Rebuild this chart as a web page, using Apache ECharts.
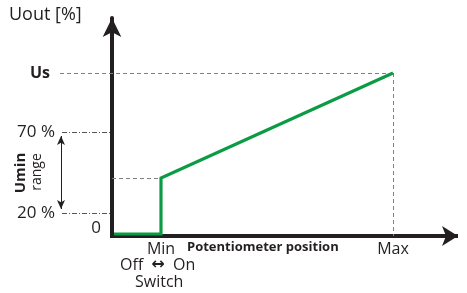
<!DOCTYPE html>
<html>
<head>
<meta charset="utf-8">
<script src="https://cdn.jsdelivr.net/npm/echarts@6/dist/echarts.min.js"></script>
<style>
  html, body { margin: 0; padding: 0; background: #fff; }
  #chart { width: 467px; height: 293px; }
</style>
</head>
<body>
<div id="chart"></div>
<script>
  // schematic units (1 unit ~ 1px of the drawing), origin at the axis corner
  const outX = [2, 49, 49, 281]
  const outY = [2, 2, 58, 163]

  const posTicks = [49, 281]
  const posTickLabels = ["Min", "Max"]

  const usLevel = 163
  const usLabel = "Us"
  const uminLevels = [104, 23]
  const uminLabels = ["70 %", "20 %"]
  const yZeroTick = [0]
  const yZeroLabel = ["0"]

  const xMin = -112
  const xMax = 346
  const yMax = 218

  const font = "Open Sans"
  const ink = "#231f20"
  const green = "#0c9b45"
  const dashGrey = "#808080"

  const chart = echarts.init(document.getElementById("chart"), null, { renderer: "canvas" })

  const dashed = { color: dashGrey, width: 1, type: [4, 3] }
  const dashDot = { color: "#555", width: 1, type: [5, 2, 1, 2] }

  const option = {
    backgroundColor: "#ffffff",
    animation: false,
    grid: { left: 0, right: 9, top: 18, bottom: 57, containLabel: false, outerBoundsMode: "none" },

    xAxis: {
      type: "value",
      min: xMin,
      max: xMax,
      axisLine: { show: false },
      axisTick: { show: false },
      splitLine: { show: false },
      axisLabel: {
        customValues: posTicks,
        formatter: v => posTickLabels[posTicks.indexOf(v)],
        margin: 5,
        fontFamily: font,
        fontSize: 16,
        color: ink
      }
    },

    yAxis: {
      type: "value",
      min: 0,
      max: yMax,
      axisLine: {
        show: true,
        onZero: true,
        symbol: ["none", "arrow"],
        symbolSize: [14, 19],
        lineStyle: { color: ink, width: 4 }
      },
      axisTick: { show: false },
      splitLine: { show: false },
      axisLabel: {
        // labels stay at the grid edge with onZero, so pull "0" back next to the axis
        customValues: yZeroTick,
        formatter: v => yZeroLabel[yZeroTick.indexOf(v)],
        margin: -101,
        verticalAlign: "bottom",
        lineHeight: 16,
        fontFamily: font,
        fontSize: 17,
        color: ink
      }
    },

    series: [
      {
        // x axis drawn from the origin only, with its arrow
        type: "line",
        data: [],
        silent: true,
        markLine: {
          silent: true,
          symbol: ["none", "none"],
          label: { show: false },
          data: [
            [
              { coord: [-2, 0], lineStyle: { color: ink, width: 4, type: "solid" } },
              { coord: [xMax, 0], symbol: "arrow", symbolSize: [15, 16] }
            ]
          ]
        }
      },
      {
        // reference levels
        type: "line",
        data: [],
        silent: true,
        clip: false,
        markLine: {
          silent: true,
          symbol: ["none", "none"],
          label: { show: false },
          data: [
            [
              {
                coord: [-52, usLevel],
                lineStyle: dashed,
                label: {
                  show: true, position: "start", distance: 10, formatter: usLabel,
                  fontFamily: font, fontSize: 16, fontWeight: "bold", color: ink
                }
              },
              { coord: [posTicks[1], usLevel] }
            ],
            [
              { coord: [posTicks[1], usLevel], lineStyle: dashed },
              { coord: [posTicks[1], 0] }
            ],
            [
              { coord: [0, outY[2]], lineStyle: dashed },
              { coord: [outX[2], outY[2]] }
            ],
            ...uminLevels.map((lv, i) => [
              {
                coord: [-50, lv],
                lineStyle: dashDot,
                label: {
                  show: true, position: "start", distance: 7, formatter: uminLabels[i],
                  fontFamily: font, fontSize: 17, color: ink
                }
              },
              { coord: [-2, lv] }
            ]),
            [
              { coord: [-51, uminLevels[0] - 4], symbol: "arrow", symbolSize: [6, 9], lineStyle: { color: ink, width: 1, type: "solid" } },
              { coord: [-51, uminLevels[1] + 4], symbol: "arrow", symbolSize: [6, 9] }
            ]
          ]
        }
      },
      {
        name: "Uout",
        type: "line",
        data: outX.map((x, i) => [x, outY[i]]),
        showSymbol: false,
        symbol: "none",
        lineStyle: { color: green, width: 3.2, join: "miter" },
        z: 5
      }
    ],

    graphic: [
      {
        type: "text", left: 9, top: 6,
        style: { text: "Uout [%]", font: `18px "${font}"`, fill: ink }
      },
      {
        type: "text", left: 187, top: 241,
        style: { text: "Potentiometer position", font: `bold 13px "${font}"`, fill: ink }
      },
      {
        type: "text", left: 120, top: 257,
        style: {
          text: "Off {a|\u2194} On",
          font: `16px "${font}"`,
          fill: ink,
          rich: { a: { fontFamily: "DejaVu Sans", fontWeight: "bold", fontSize: 16, fill: ink, padding: [0, 4] } }
        }
      },
      {
        type: "text", left: 135, top: 274,
        style: { text: "Switch", font: `16px "${font}"`, fill: ink }
      },
      {
        type: "text", x: 21, y: 173, rotation: Math.PI / 2,
        style: { text: "Umin", font: `bold 15px "${font}"`, fill: ink, align: "center", verticalAlign: "middle" }
      },
      {
        type: "text", x: 37, y: 172, rotation: Math.PI / 2,
        style: { text: "range", font: `14px "${font}"`, fill: ink, align: "center", verticalAlign: "middle" }
      }
    ]
  }

  chart.setOption(option)
</script>
</body>
</html>
